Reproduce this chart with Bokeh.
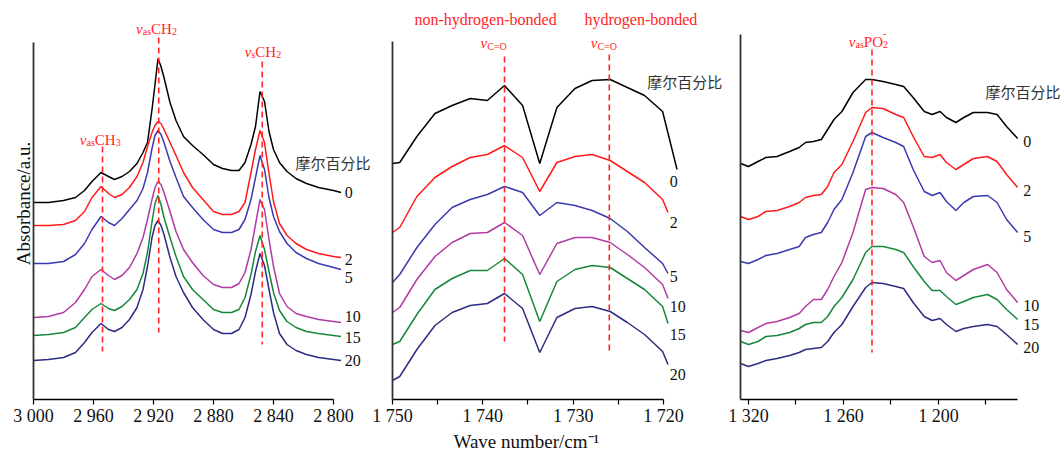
from bokeh.plotting import figure
from bokeh.layouts import row
from bokeh.models import Range1d, FixedTicker, Label, Title
from bokeh.embed import file_html
from bokeh.resources import INLINE

SERIF = "Liberation Serif"
CJK = "Noto Sans CJK SC"
RED = "#ff2626"

# ---------------- data ----------------
series = ["0", "2", "5", "10", "15", "20"]
colors = ["#000000", "#ff1a1a", "#3a3ab0", "#b13aa3", "#17873b", "#2c2c82"]
legend_title = "摩尔百分比"

# Panel 1: C-H stretching region
ch_wn = [3000, 2990, 2980, 2972, 2966, 2961, 2955, 2950, 2946, 2941, 2936, 2931, 2927, 2924,
         2921, 2919, 2917, 2915, 2913, 2909, 2905, 2900, 2894, 2887, 2880, 2874, 2868, 2863,
         2859, 2855, 2852, 2849, 2846, 2843, 2840, 2836, 2831, 2825, 2818, 2810, 2800, 2795]
ch_abs_0 = [1.97, 1.97, 1.99, 2.02, 2.09, 2.18, 2.27, 2.23, 2.20, 2.23, 2.28, 2.36, 2.47, 2.57,
            2.90, 3.15, 3.41, 3.33, 3.22, 2.97, 2.79, 2.63, 2.54, 2.45, 2.35, 2.31, 2.29, 2.29,
            2.37, 2.55, 2.73, 3.08, 2.98, 2.68, 2.50, 2.37, 2.28, 2.21, 2.16, 2.12, 2.09, 2.07]
ch_abs_2 = [1.74, 1.74, 1.75, 1.79, 1.88, 2.02, 2.13, 2.06, 2.02, 2.05, 2.12, 2.23, 2.37, 2.53,
            2.67, 2.74, 2.78, 2.76, 2.70, 2.57, 2.44, 2.27, 2.12, 2.00, 1.88, 1.85, 1.85, 1.88,
            1.97, 2.27, 2.50, 2.69, 2.57, 2.26, 1.98, 1.76, 1.64, 1.56, 1.50, 1.46, 1.43, 1.42]
ch_abs_5 = [1.36, 1.36, 1.38, 1.45, 1.56, 1.70, 1.83, 1.77, 1.74, 1.81, 1.90, 1.99, 2.11, 2.27,
            2.51, 2.64, 2.69, 2.65, 2.57, 2.38, 2.22, 2.03, 1.92, 1.80, 1.70, 1.67, 1.67, 1.70,
            1.80, 2.00, 2.22, 2.44, 2.30, 2.02, 1.83, 1.68, 1.56, 1.47, 1.41, 1.36, 1.32, 1.30]
ch_abs_10 = [0.82, 0.83, 0.87, 0.97, 1.10, 1.23, 1.30, 1.24, 1.20, 1.24, 1.32, 1.46, 1.62, 1.80,
             2.00, 2.12, 2.18, 2.15, 2.07, 1.88, 1.68, 1.50, 1.37, 1.24, 1.15, 1.12, 1.12, 1.16,
             1.27, 1.50, 1.75, 2.00, 1.90, 1.60, 1.33, 1.06, 0.93, 0.86, 0.83, 0.80, 0.78, 0.77]
ch_abs_15 = [0.64, 0.65, 0.67, 0.72, 0.82, 0.90, 0.96, 0.91, 0.89, 0.93, 1.00, 1.10, 1.26, 1.47,
             1.78, 1.96, 2.04, 1.95, 1.82, 1.62, 1.43, 1.23, 1.10, 1.00, 0.90, 0.87, 0.87, 0.90,
             1.02, 1.25, 1.48, 1.64, 1.50, 1.28, 1.07, 0.89, 0.78, 0.72, 0.68, 0.66, 0.64, 0.63]
ch_abs_20 = [0.39, 0.40, 0.42, 0.47, 0.57, 0.67, 0.76, 0.70, 0.68, 0.72, 0.80, 0.92, 1.10, 1.33,
             1.62, 1.74, 1.79, 1.74, 1.65, 1.42, 1.23, 1.07, 0.92, 0.80, 0.70, 0.66, 0.66, 0.70,
             0.82, 1.05, 1.28, 1.46, 1.34, 1.10, 0.87, 0.66, 0.55, 0.49, 0.45, 0.42, 0.40, 0.39]
ch_bands = [2954, 2916.5, 2847.5]
ch_ticks = [3000, 2960, 2920, 2880, 2840, 2800]
ch_tick_labels = ["3 000", "2 960", "2 920", "2 880", "2 840", "2 800"]

# Panel 2: C=O stretching region
co_wn = [1750.0, 1749.2, 1747.3, 1745.3, 1743.4, 1741.4, 1739.5, 1737.6, 1735.6, 1733.7,
         1731.8, 1729.8, 1727.9, 1725.9, 1724.0, 1722.1, 1720.1]
co_end_wn = [1718.5, 1719.5, 1719.5, 1719.5, 1719.5, 1719.5]
co_abs_0 = [2.36, 2.37, 2.63, 2.86, 2.94, 3.01, 2.99, 3.14, 2.94, 2.36, 2.92, 3.11, 3.19, 3.20,
            3.12, 3.04, 2.88, 2.30]
co_abs_2 = [1.67, 1.72, 2.03, 2.22, 2.33, 2.42, 2.45, 2.54, 2.42, 2.08, 2.37, 2.43, 2.45, 2.39,
            2.28, 2.17, 2.00, 1.87]
co_abs_5 = [1.17, 1.25, 1.52, 1.75, 1.92, 2.00, 2.05, 2.13, 2.07, 1.84, 1.97, 1.94, 1.89, 1.81,
            1.68, 1.52, 1.36, 1.26]
co_abs_10 = [0.87, 0.92, 1.20, 1.43, 1.57, 1.66, 1.67, 1.77, 1.64, 1.25, 1.56, 1.62, 1.62, 1.57,
             1.45, 1.32, 1.15, 1.01]
co_abs_15 = [0.55, 0.58, 0.85, 1.10, 1.21, 1.29, 1.29, 1.41, 1.25, 0.78, 1.18, 1.30, 1.34, 1.32,
             1.21, 1.10, 0.93, 0.76]
co_abs_20 = [0.19, 0.23, 0.50, 0.74, 0.87, 0.94, 0.96, 1.06, 0.91, 0.47, 0.82, 0.91, 0.93, 0.88,
             0.77, 0.65, 0.48, 0.35]
co_bands = [1737.6, 1726.0]
co_band_names = ["non-hydrogen-bonded", "hydrogen-bonded"]
co_ticks = [1750, 1740, 1730, 1720]
co_minor = [1745, 1735, 1725]
co_tick_labels = ["1 750", "1 740", "1 730", "1 720"]

# Panel 3: phosphate region
po_wn = [1325, 1320, 1314, 1309, 1302, 1294, 1288, 1284, 1279, 1274, 1270, 1266, 1261, 1254,
         1246, 1242, 1235, 1227, 1222, 1216, 1209, 1204, 1199, 1195, 1189, 1184, 1178, 1169,
         1163, 1157, 1150]
po_abs_0 = [2.36, 2.33, 2.38, 2.42, 2.43, 2.48, 2.52, 2.57, 2.58, 2.60, 2.70, 2.80, 2.88, 3.07,
            3.20, 3.20, 3.18, 3.15, 3.13, 3.02, 2.88, 2.85, 2.88, 2.82, 2.77, 2.82, 2.87, 2.87,
            2.85, 2.73, 2.61]
po_abs_2 = [1.83, 1.80, 1.83, 1.88, 1.89, 1.93, 1.97, 2.02, 2.04, 2.05, 2.13, 2.27, 2.35, 2.58,
            2.87, 2.92, 2.91, 2.85, 2.82, 2.63, 2.43, 2.42, 2.45, 2.37, 2.30, 2.35, 2.41, 2.43,
            2.38, 2.25, 2.12]
po_abs_5 = [1.38, 1.36, 1.40, 1.44, 1.46, 1.50, 1.53, 1.62, 1.65, 1.67, 1.77, 1.90, 2.00, 2.27,
            2.63, 2.67, 2.62, 2.57, 2.53, 2.30, 2.08, 2.04, 2.07, 1.98, 1.89, 1.97, 2.03, 2.04,
            1.97, 1.80, 1.67]
po_abs_10 = [0.69, 0.67, 0.72, 0.76, 0.78, 0.82, 0.86, 0.93, 1.00, 1.00, 1.10, 1.23, 1.37, 1.67,
             2.10, 2.12, 2.11, 2.05, 1.97, 1.73, 1.43, 1.37, 1.39, 1.27, 1.19, 1.24, 1.30, 1.35,
             1.27, 1.10, 0.97]
po_abs_15 = [0.58, 0.55, 0.58, 0.63, 0.64, 0.67, 0.71, 0.75, 0.77, 0.77, 0.83, 0.93, 1.02, 1.20,
             1.47, 1.53, 1.53, 1.50, 1.47, 1.33, 1.18, 1.09, 1.09, 1.03, 0.95, 0.98, 1.02, 1.05,
             1.00, 0.90, 0.80]
po_abs_20 = [0.36, 0.33, 0.36, 0.39, 0.41, 0.44, 0.47, 0.50, 0.51, 0.52, 0.58, 0.67, 0.75, 0.93,
             1.12, 1.17, 1.16, 1.13, 1.11, 0.97, 0.83, 0.79, 0.81, 0.75, 0.68, 0.71, 0.73, 0.75,
             0.73, 0.65, 0.55]
po_bands = [1242]
po_ticks = [1320, 1260, 1200]
po_minor = [1290, 1230, 1170]
po_tick_labels = ["1 320", "1 260", "1 200"]

ch_all = [ch_abs_0, ch_abs_2, ch_abs_5, ch_abs_10, ch_abs_15, ch_abs_20]
co_all = [co_abs_0, co_abs_2, co_abs_5, co_abs_10, co_abs_15, co_abs_20]
po_all = [po_abs_0, po_abs_2, po_abs_5, po_abs_10, po_abs_15, po_abs_20]

# ---------------- layout helpers ----------------
FRAME_H = 392
TOP_PAD = 7
Y_TOP = 3.92

CW = {'v': 0.444, 'a': 0.444, 's': 0.389, 'C': 0.667, 'H': 0.722, 'P': 0.556, 'O': 0.722,
      '=': 0.564, '2': 0.5, '3': 0.5, '-': 0.333}


def tw(t, size):
    return sum(CW.get(c, 0.5) for c in t) * size


def make_fig(frame_w, left, x_start, px_per_unit, bounds, ticks, minor, labels, ytop):
    x_end = x_start - frame_w / px_per_unit
    p = figure(frame_width=frame_w, frame_height=FRAME_H,
               x_range=Range1d(x_start, x_end), y_range=Range1d(0, Y_TOP),
               output_backend="svg", toolbar_location=None,
               min_border_left=left, min_border_right=0, min_border_top=TOP_PAD,
               min_border_bottom=0)
    p.outline_line_color = None
    p.grid.visible = False
    xa = p.xaxis[0]
    xa.ticker = FixedTicker(ticks=ticks, minor_ticks=minor)
    xa.major_label_overrides = {t: l for t, l in zip(ticks, labels)}
    xa.bounds = bounds
    xa.major_tick_in = 0
    xa.major_tick_out = 5
    xa.minor_tick_in = 0
    xa.minor_tick_out = 5
    xa.major_tick_line_width = 1.2
    xa.minor_tick_line_width = 1.2
    xa.axis_line_width = 1.3
    xa.major_label_text_font = SERIF
    xa.major_label_text_font_size = "18px"
    xa.major_label_text_color = "#111111"
    xa.major_label_standoff = 1
    ya = p.yaxis[0]
    ya.ticker = FixedTicker(ticks=[])
    ya.bounds = (0, ytop)
    ya.axis_line_width = 1.8
    ya.axis_line_color = "#333333"
    ya.major_tick_line_color = None
    ya.minor_tick_line_color = None
    return p


def add_sym(p, x, y, parts):
    # parts: (text, size, italic, rise, advance)
    total = sum(tw(t, s) for t, s, it, r, adv in parts if adv)
    off = -total / 2
    for t, s, it, r, adv in parts:
        p.add_layout(Label(x=x, y=y, x_offset=off, y_offset=r, text=t,
                           text_font=SERIF, text_font_size=f"{s}px",
                           text_font_style="italic" if it else "normal",
                           text_color=RED, text_align="left",
                           text_baseline="alphabetic"))
        if adv:
            off += tw(t, s)


def add_text(p, x, y, t, size, font=SERIF, color="#111111", align="left"):
    p.add_layout(Label(x=x, y=y, text=t, text_font=font, text_font_size=f"{size}px",
                       text_color=color, text_align=align, text_baseline="middle"))


def dash(p, x, y0, y1):
    p.segment(x0=[x], y0=[y0], x1=[x], y1=[y1], line_color=RED, line_width=1.6,
              line_dash="6 4")


# ---------------- panel 1 ----------------
p1 = make_fig(337, 33, 3000, 1.5, (2800, 3000), ch_ticks, [], ch_tick_labels, 3.57)
for ys, c in zip(ch_all, colors):
    p1.line(ch_wn, ys, line_color=c, line_width=1.5)
dash(p1, ch_bands[0], 2.53, 0.48)
dash(p1, ch_bands[1], 3.62, 0.67)
dash(p1, ch_bands[2], 3.38, 0.55)
add_sym(p1, 2955.5, 2.60, [("v", 15, True, 0, True), ("as", 10, False, -3, True),
                           ("CH", 15, False, 0, True), ("3", 10, False, -3, True)])
add_sym(p1, 2918.0, 3.71, [("v", 15, True, 0, True), ("as", 10, False, -3, True),
                           ("CH", 15, False, 0, True), ("2", 10, False, -3, True)])
add_sym(p1, 2847.0, 3.48, [("v", 15, True, 0, True), ("s", 10, False, -3, True),
                           ("CH", 15, False, 0, True), ("2", 10, False, -3, True)])
add_text(p1, 2825.3, 2.37, legend_title, 15, font=CJK, color="#333333")
for s, ylab in zip(series, [2.07, 1.40, 1.22, 0.83, 0.62, 0.39]):
    add_text(p1, 2792.5, ylab, s, 16)
p1.add_layout(Title(text="Absorbance/a.u.", align="center", offset=16, standoff=0,
                    text_font=SERIF, text_font_size="19px", text_font_style="normal",
                    text_color="#111111"), "left")

# ---------------- panel 2 ----------------
p2 = make_fig(332, 22, 1750, 9.0333, (1720, 1750), co_ticks, co_minor, co_tick_labels, 3.58)
for ys, c, e in zip(co_all, colors, co_end_wn):
    p2.line(co_wn + [e], ys, line_color=c, line_width=1.5)
dash(p2, co_bands[0], 3.43, 0.58)
dash(p2, co_bands[1], 3.45, 0.45)
add_text(p2, 1739.7, 3.80, co_band_names[0], 16, color=RED, align="center")
add_text(p2, 1722.5, 3.80, co_band_names[1], 16, color=RED, align="center")
add_sym(p2, 1738.8, 3.57, [("v", 15, True, 0, True), ("C=O", 10, False, -4, True)])
add_sym(p2, 1726.6, 3.57, [("v", 15, True, 0, True), ("C=O", 10, False, -4, True)])
add_text(p2, 1721.8, 3.18, legend_title, 15, font=CJK, color="#333333")
for s, ylab in zip(series, [2.18, 1.77, 1.23, 0.93, 0.65, 0.25]):
    add_text(p2, 1719.3, ylab, s, 16)
p2.add_layout(Title(text="Wave number/cm\u207b\u00b9", align="left", offset=61, standoff=0,
                    text_font=SERIF, text_font_size="19px", text_font_style="normal",
                    text_color="#111111"), "below")

# ---------------- panel 3 ----------------
p3 = make_fig(324, 16, 1325.05, 1.5833, (1150, 1325), po_ticks, po_minor, po_tick_labels, 3.65)
for ys, c in zip(po_all, colors):
    p3.line(po_wn, ys, line_color=c, line_width=1.5)
dash(p3, po_bands[0], 3.50, 0.47)
add_sym(p3, 1244.8, 3.58, [("v", 15, True, 0, True), ("as", 10, False, -3, True),
                           ("PO", 15, False, 0, True), ("2", 10, False, -3, False),
                           ("-", 10, False, 8, True)])
add_text(p3, 1170.3, 3.08, legend_title, 15, font=CJK, color="#333333")
for s, ylab in zip(series, [2.58, 2.09, 1.63, 0.94, 0.75, 0.52]):
    add_text(p3, 1146.5, ylab, s, 16)

layout = row(p1, p2, p3)
open("out.html", "w").write(file_html(layout, INLINE))
